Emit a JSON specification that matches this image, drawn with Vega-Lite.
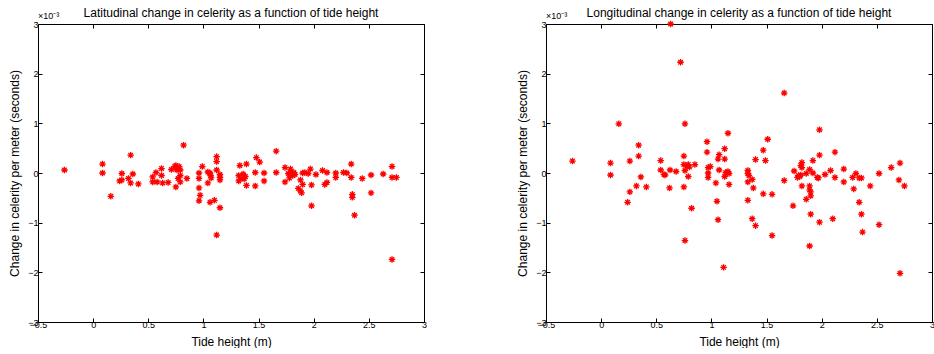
{
  "$schema": "https://vega.github.io/schema/vega-lite/v6.json",
  "padding": {"left": 8, "top": 6, "right": 0, "bottom": 0},
  "background": "white",
  "spacing": 122,
  "bounds": "flush",
  "config": {
    "view": {"stroke": "#000", "strokeWidth": 1},
    "font": "Liberation Sans",
    "axis": {
      "domain": false, "grid": false, "ticks": true, "tickSize": -4, "tickColor": "#000",
      "labelFont": "Liberation Sans", "labelFontSize": 9, "labelColor": "#000",
      "titleFont": "Liberation Sans", "titleFontSize": 12, "titleFontWeight": "normal", "titleColor": "#000",
      "labelFlush": false, "labelOverlap": false
    },
    "title": {"font": "Liberation Sans", "fontSize": 12, "fontWeight": "normal", "color": "#000", "offset": -8}
  },
  "datasets": {
    "lat": [
      {"h": -0.26, "v": 0.06}, {"h": 0.085, "v": 0.18}, {"h": 0.085, "v": 0.0}, {"h": 0.16, "v": -0.47},
      {"h": 0.24, "v": -0.16}, {"h": 0.26, "v": -0.14}, {"h": 0.26, "v": -0.01}, {"h": 0.32, "v": -0.11},
      {"h": 0.34, "v": 0.36}, {"h": 0.34, "v": -0.2}, {"h": 0.36, "v": -0.02}, {"h": 0.41, "v": -0.22},
      {"h": 0.54, "v": -0.08}, {"h": 0.54, "v": -0.18}, {"h": 0.57, "v": 0.01}, {"h": 0.58, "v": -0.18},
      {"h": 0.62, "v": 0.09}, {"h": 0.62, "v": -0.05}, {"h": 0.63, "v": -0.2}, {"h": 0.68, "v": -0.19},
      {"h": 0.71, "v": 0.07}, {"h": 0.74, "v": 0.13}, {"h": 0.75, "v": 0.15}, {"h": 0.76, "v": 0.06},
      {"h": 0.75, "v": -0.28}, {"h": 0.77, "v": -0.11}, {"h": 0.78, "v": 0.13}, {"h": 0.79, "v": 0.06},
      {"h": 0.79, "v": -0.18}, {"h": 0.82, "v": 0.56}, {"h": 0.79, "v": -0.05}, {"h": 0.85, "v": -0.11},
      {"h": 0.96, "v": 0.0}, {"h": 0.96, "v": -0.11}, {"h": 0.96, "v": -0.3}, {"h": 0.97, "v": -0.45},
      {"h": 0.96, "v": -0.56}, {"h": 0.99, "v": 0.13}, {"h": 1.04, "v": 0.02}, {"h": 1.04, "v": -0.2},
      {"h": 1.06, "v": 0.0}, {"h": 1.065, "v": -0.05}, {"h": 1.06, "v": -0.59}, {"h": 1.07, "v": -0.1},
      {"h": 1.1, "v": -0.55}, {"h": 1.12, "v": 0.33}, {"h": 1.12, "v": 0.23}, {"h": 1.12, "v": 0.06},
      {"h": 1.12, "v": -1.25}, {"h": 1.15, "v": -0.03}, {"h": 1.15, "v": -0.09}, {"h": 1.15, "v": -0.14},
      {"h": 1.15, "v": -0.7}, {"h": 1.33, "v": 0.15}, {"h": 1.32, "v": -0.05}, {"h": 1.32, "v": -0.16},
      {"h": 1.34, "v": -0.11}, {"h": 1.36, "v": -0.02}, {"h": 1.37, "v": -0.12}, {"h": 1.38, "v": -0.07},
      {"h": 1.39, "v": 0.18}, {"h": 1.39, "v": -0.25}, {"h": 1.47, "v": 0.01}, {"h": 1.47, "v": -0.26},
      {"h": 1.48, "v": 0.31}, {"h": 1.51, "v": 0.22}, {"h": 1.55, "v": 0.0}, {"h": 1.55, "v": -0.16},
      {"h": 1.66, "v": 0.44}, {"h": 1.66, "v": 0.01}, {"h": 1.74, "v": 0.11}, {"h": 1.74, "v": -0.18},
      {"h": 1.77, "v": -0.01}, {"h": 1.78, "v": -0.1}, {"h": 1.79, "v": 0.08}, {"h": 1.8, "v": -0.01},
      {"h": 1.81, "v": -0.05}, {"h": 1.82, "v": 0.01}, {"h": 1.83, "v": -0.03}, {"h": 1.86, "v": -0.31},
      {"h": 1.88, "v": -0.36}, {"h": 1.89, "v": -0.4}, {"h": 1.88, "v": -0.14}, {"h": 1.9, "v": -0.23},
      {"h": 1.9, "v": 0.0}, {"h": 1.92, "v": 0.01}, {"h": 1.95, "v": -0.01}, {"h": 1.97, "v": 0.08},
      {"h": 1.98, "v": -0.24}, {"h": 1.98, "v": -0.66}, {"h": 2.02, "v": -0.03}, {"h": 2.08, "v": 0.05},
      {"h": 2.1, "v": -0.23}, {"h": 2.12, "v": -0.19}, {"h": 2.12, "v": 0.01}, {"h": 2.2, "v": 0.0},
      {"h": 2.2, "v": -0.09}, {"h": 2.27, "v": 0.01}, {"h": 2.3, "v": 0.0}, {"h": 2.34, "v": 0.18},
      {"h": 2.34, "v": -0.09}, {"h": 2.35, "v": -0.43}, {"h": 2.35, "v": -0.49}, {"h": 2.37, "v": -0.85},
      {"h": 2.44, "v": -0.11}, {"h": 2.52, "v": -0.04}, {"h": 2.52, "v": -0.4}, {"h": 2.63, "v": -0.02},
      {"h": 2.71, "v": 0.13}, {"h": 2.71, "v": -0.09}, {"h": 2.71, "v": -1.74}, {"h": 2.75, "v": -0.09}
    ],
    "lon": [
      {"h": -0.26, "v": 0.24}, {"h": 0.085, "v": 0.2}, {"h": 0.085, "v": -0.04}, {"h": 0.16, "v": 0.99},
      {"h": 0.24, "v": -0.59}, {"h": 0.26, "v": 0.24}, {"h": 0.26, "v": -0.38}, {"h": 0.32, "v": -0.26},
      {"h": 0.34, "v": 0.56}, {"h": 0.34, "v": 0.34}, {"h": 0.36, "v": -0.08}, {"h": 0.41, "v": -0.28},
      {"h": 0.54, "v": 0.25}, {"h": 0.54, "v": 0.06}, {"h": 0.57, "v": -0.03}, {"h": 0.58, "v": -0.04},
      {"h": 0.62, "v": -0.3}, {"h": 0.625, "v": 0.06}, {"h": 0.63, "v": 3.0}, {"h": 0.68, "v": 0.03},
      {"h": 0.72, "v": 2.23}, {"h": 0.75, "v": 0.34}, {"h": 0.75, "v": 0.17}, {"h": 0.75, "v": -0.28},
      {"h": 0.76, "v": -1.36}, {"h": 0.76, "v": 0.99}, {"h": 0.76, "v": 0.05}, {"h": 0.78, "v": 0.14},
      {"h": 0.79, "v": 0.17}, {"h": 0.79, "v": -0.07}, {"h": 0.8, "v": 0.12}, {"h": 0.82, "v": -0.71},
      {"h": 0.85, "v": 0.17}, {"h": 0.96, "v": 0.63}, {"h": 0.96, "v": 0.42}, {"h": 0.97, "v": 0.11},
      {"h": 0.97, "v": 0.0}, {"h": 0.97, "v": -0.09}, {"h": 0.99, "v": 0.13}, {"h": 1.04, "v": -0.2},
      {"h": 1.05, "v": -0.57}, {"h": 1.06, "v": -0.94}, {"h": 1.06, "v": 0.28}, {"h": 1.07, "v": 0.37},
      {"h": 1.07, "v": 0.06}, {"h": 1.11, "v": -1.9}, {"h": 1.12, "v": 0.49}, {"h": 1.12, "v": 0.28},
      {"h": 1.12, "v": -0.07}, {"h": 1.13, "v": 0.01}, {"h": 1.15, "v": 0.8}, {"h": 1.15, "v": 0.03},
      {"h": 1.16, "v": -0.23}, {"h": 1.16, "v": -0.01}, {"h": 1.33, "v": 0.05}, {"h": 1.33, "v": -0.01},
      {"h": 1.33, "v": -0.18}, {"h": 1.33, "v": -0.55}, {"h": 1.34, "v": -0.05}, {"h": 1.37, "v": -0.92},
      {"h": 1.37, "v": -0.13}, {"h": 1.38, "v": -0.3}, {"h": 1.4, "v": 0.27}, {"h": 1.4, "v": -1.06},
      {"h": 1.47, "v": 0.46}, {"h": 1.47, "v": -0.42}, {"h": 1.49, "v": 0.25}, {"h": 1.51, "v": 0.68},
      {"h": 1.55, "v": -0.43}, {"h": 1.55, "v": -1.26}, {"h": 1.66, "v": 1.61}, {"h": 1.66, "v": -0.15},
      {"h": 1.74, "v": -0.66}, {"h": 1.75, "v": 0.04}, {"h": 1.78, "v": -0.09}, {"h": 1.79, "v": -0.05},
      {"h": 1.8, "v": -0.07}, {"h": 1.81, "v": -0.04}, {"h": 1.81, "v": 0.15}, {"h": 1.82, "v": -0.26},
      {"h": 1.82, "v": 0.21}, {"h": 1.82, "v": 0.11}, {"h": 1.86, "v": -0.01}, {"h": 1.86, "v": -0.53},
      {"h": 1.89, "v": 0.07}, {"h": 1.89, "v": -0.26}, {"h": 1.89, "v": -0.34}, {"h": 1.89, "v": -1.47},
      {"h": 1.9, "v": -0.38}, {"h": 1.9, "v": -0.46}, {"h": 1.9, "v": -0.83}, {"h": 1.92, "v": 0.25},
      {"h": 1.92, "v": 0.0}, {"h": 1.96, "v": -0.09}, {"h": 1.98, "v": 0.87}, {"h": 1.98, "v": 0.36},
      {"h": 1.97, "v": -0.1}, {"h": 1.98, "v": -0.99}, {"h": 2.03, "v": -0.03}, {"h": 2.08, "v": 0.05},
      {"h": 2.1, "v": -0.92}, {"h": 2.12, "v": 0.42}, {"h": 2.12, "v": -0.09}, {"h": 2.2, "v": 0.08},
      {"h": 2.2, "v": -0.18}, {"h": 2.28, "v": -0.09}, {"h": 2.29, "v": -0.32}, {"h": 2.31, "v": -0.01},
      {"h": 2.34, "v": -0.1}, {"h": 2.34, "v": -0.59}, {"h": 2.36, "v": -0.1}, {"h": 2.36, "v": -0.83},
      {"h": 2.37, "v": -1.19}, {"h": 2.44, "v": -0.26}, {"h": 2.52, "v": -0.01}, {"h": 2.52, "v": -1.04},
      {"h": 2.63, "v": 0.11}, {"h": 2.71, "v": 0.2}, {"h": 2.7, "v": -0.14}, {"h": 2.71, "v": -2.02},
      {"h": 2.75, "v": -0.26}
    ],
    "exp": [{"h": -0.5, "v": 3, "t": "×10⁻³"}]
  },
  "hconcat": [
    {
      "width": 386, "height": 298,
      "title": {"text": "Latitudinal change in celerity as a function of tide height"},
      "layer": [
        {
          "data": {"name": "lat"},
          "mark": {"type": "point", "shape": "M-1,0L1,0M0,-1L0,1M-0.7,-0.7L0.7,0.7M-0.7,0.7L0.7,-0.7", "size": 42, "filled": false, "stroke": "#ff0000", "strokeWidth": 1.3, "opacity": 1},
          "encoding": {
            "x": {"field": "h", "type": "quantitative", "scale": {"domain": [-0.5, 3], "nice": false, "zero": false},
                  "axis": {"orient": "bottom", "values": [-0.5, 0, 0.5, 1, 1.5, 2, 2.5, 3], "format": "~g", "title": "Tide height (m)", "labelPadding": 2, "titlePadding": 7}},
            "y": {"field": "v", "type": "quantitative", "scale": {"domain": [-3, 3], "nice": false, "zero": false},
                  "axis": {"orient": "left", "values": [-3, -2, -1, 0, 1, 2, 3], "format": "~g", "title": "Change in celerity per meter (seconds)", "labelPadding": 4, "titlePadding": 6}}
          }
        },
        {
          "data": {"name": "lat"},
          "mark": {"type": "point", "opacity": 0},
          "encoding": {
            "x": {"field": "h", "type": "quantitative", "axis": {"orient": "top", "values": [-0.5, 0, 0.5, 1, 1.5, 2, 2.5, 3], "labels": false, "title": null}},
            "y": {"field": "v", "type": "quantitative", "axis": {"orient": "right", "values": [-3, -2, -1, 0, 1, 2, 3], "labels": false, "title": null}}
          }
        },
        {
          "data": {"name": "exp"},
          "mark": {"type": "text", "align": "left", "baseline": "bottom", "dy": -3, "fontSize": 9, "font": "Liberation Sans", "color": "#000"},
          "encoding": {
            "x": {"field": "h", "type": "quantitative", "axis": null},
            "y": {"field": "v", "type": "quantitative", "axis": null},
            "text": {"field": "t"}
          }
        }
      ],
      "resolve": {"axis": {"x": "independent", "y": "independent"}}
    },
    {
      "width": 386, "height": 298,
      "title": {"text": "Longitudinal change in celerity as a function of tide height"},
      "layer": [
        {
          "data": {"name": "lon"},
          "mark": {"type": "point", "shape": "M-1,0L1,0M0,-1L0,1M-0.7,-0.7L0.7,0.7M-0.7,0.7L0.7,-0.7", "size": 42, "filled": false, "stroke": "#ff0000", "strokeWidth": 1.3, "opacity": 1},
          "encoding": {
            "x": {"field": "h", "type": "quantitative", "scale": {"domain": [-0.5, 3], "nice": false, "zero": false},
                  "axis": {"orient": "bottom", "values": [-0.5, 0, 0.5, 1, 1.5, 2, 2.5, 3], "format": "~g", "title": "Tide height (m)", "labelPadding": 2, "titlePadding": 7}},
            "y": {"field": "v", "type": "quantitative", "scale": {"domain": [-3, 3], "nice": false, "zero": false},
                  "axis": {"orient": "left", "values": [-3, -2, -1, 0, 1, 2, 3], "format": "~g", "title": "Change in celerity per meter (seconds)", "labelPadding": 4, "titlePadding": 6}}
          }
        },
        {
          "data": {"name": "lon"},
          "mark": {"type": "point", "opacity": 0},
          "encoding": {
            "x": {"field": "h", "type": "quantitative", "axis": {"orient": "top", "values": [-0.5, 0, 0.5, 1, 1.5, 2, 2.5, 3], "labels": false, "title": null}},
            "y": {"field": "v", "type": "quantitative", "axis": {"orient": "right", "values": [-3, -2, -1, 0, 1, 2, 3], "labels": false, "title": null}}
          }
        },
        {
          "data": {"name": "exp"},
          "mark": {"type": "text", "align": "left", "baseline": "bottom", "dy": -3, "fontSize": 9, "font": "Liberation Sans", "color": "#000"},
          "encoding": {
            "x": {"field": "h", "type": "quantitative", "axis": null},
            "y": {"field": "v", "type": "quantitative", "axis": null},
            "text": {"field": "t"}
          }
        }
      ],
      "resolve": {"axis": {"x": "independent", "y": "independent"}}
    }
  ]
}
